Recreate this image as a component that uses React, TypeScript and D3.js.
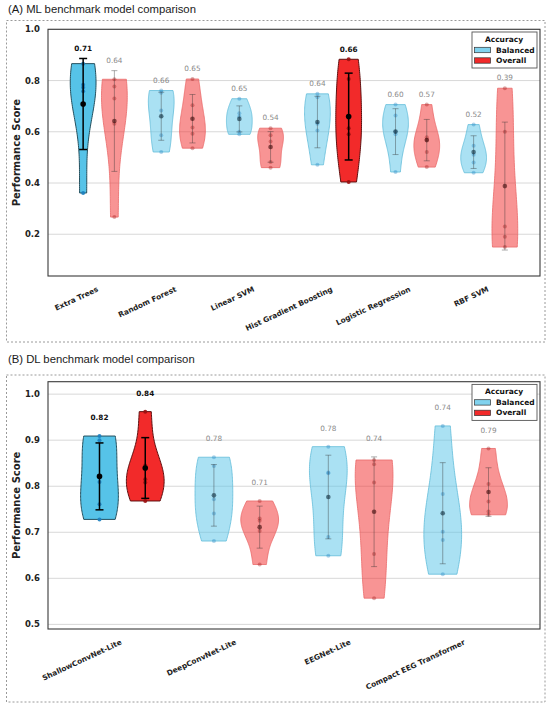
import React from 'react';
import * as d3 from 'd3';

// ---- data ----
const mlModels = ['Extra Trees', 'Random Forest', 'Linear SVM', 'Hist Gradient Boosting', 'Logistic Regression', 'RBF SVM'];
const mlBalanced = [
    [0.866, 0.784, 0.773, 0.758, 0.361],
    [0.761, 0.752, 0.683, 0.586, 0.521],
    [0.729, 0.672, 0.66, 0.6, 0.59],
    [0.748, 0.735, 0.631, 0.605, 0.471],
    [0.706, 0.664, 0.6, 0.59, 0.443],
    [0.628, 0.545, 0.51, 0.48, 0.44],
];
const mlOverall = [
    [0.805, 0.777, 0.73, 0.631, 0.267],
    [0.806, 0.704, 0.617, 0.592, 0.536],
    [0.614, 0.586, 0.562, 0.482, 0.46],
    [0.883, 0.806, 0.614, 0.59, 0.404],
    [0.706, 0.579, 0.569, 0.521, 0.462],
    [0.77, 0.6, 0.23, 0.19, 0.15],
];
const mlTicks = [0.2, 0.4, 0.6, 0.8, 1.0];

const dlModels = ['ShallowConvNet-Lite', 'DeepConvNet-Lite', 'EEGNet-Lite', 'Compact EEG Transformer'];
const dlBalanced = [
    [0.909, 0.9, 0.809, 0.761, 0.728],
    [0.863, 0.844, 0.772, 0.741, 0.681],
    [0.886, 0.83, 0.828, 0.69, 0.649],
    [0.931, 0.783, 0.701, 0.683, 0.609],
];
const dlOverall = [
    [0.962, 0.845, 0.815, 0.808, 0.768],
    [0.768, 0.73, 0.725, 0.703, 0.63],
    [0.857, 0.848, 0.808, 0.653, 0.557],
    [0.882, 0.805, 0.767, 0.745, 0.738],
];
const dlTicks = [0.5, 0.6, 0.7, 0.8, 0.9, 1.0];

const metrics = ['Balanced', 'Overall'];

const FONT = '"DejaVu Sans", sans-serif';
const TITLE_FONT = '"Liberation Sans", Arial, sans-serif';

const COLORS = {
    Balanced: { fill: '#56c3e8', edgeHi: '#24505e', edgeLo: '#62bcd9', point: '#1b7fbf', mean: '#0b2a3a' },
    Overall: { fill: '#f22a2a', edgeHi: '#5e0f0f', edgeLo: '#ea6a6a', point: '#9a1010', mean: '#3a0808' },
};

// gaussian kde, scott bandwidth (like scipy)
function gaussKde(values: number[]) {
    const n = values.length;
    const m = d3.mean(values) || 0;
    const sd = Math.sqrt(d3.sum(values, v => (v - m) ** 2) / (n - 1));
    const bw = sd * Math.pow(n, -1 / 5);
    return (x: number) => d3.mean(values, v => Math.exp(-0.5 * ((x - v) / bw) ** 2)) || 0;
}

interface PanelProps {
    title: string;
    titleY: number;
    boxTop: number;
    boxBottom: number;
    top: number;
    bottom: number;
    yDomain: [number, number];
    ticks: number[];
    models: string[];
    balanced: number[][];
    overall: number[][];
}

function Panel({ title, titleY, boxTop, boxBottom, top, bottom, yDomain, ticks, models, balanced, overall }: PanelProps) {
    const left = 48, right = 540;
    const x = d3.scaleLinear().domain([-0.65, models.length - 0.35]).range([left, right]);
    const y = d3.scaleLinear().domain(yDomain).range([bottom, top]);
    const halfW = 0.165;
    const offset = 0.2;

    const series = [balanced, overall];

    return (
        <g>
            <text x={8} y={titleY} fontFamily={TITLE_FONT} fontSize={11.3} fill="#1a1a1a">{title}</text>
            <rect x={6.5} y={boxTop} width={538.5} height={boxBottom - boxTop} fill="none"
                  stroke="#9a9a9a" strokeWidth={1} strokeDasharray="2,2" />

            {/* grid */}
            {ticks.map(t => (
                <line key={t} x1={left} x2={right} y1={y(t)} y2={y(t)} stroke="#d4d4d4" strokeWidth={0.9} />
            ))}

            {series.map((data, si) => {
                const metric = metrics[si] as 'Balanced' | 'Overall';
                const col = COLORS[metric];
                const means = data.map(d => d3.mean(d) || 0);
                const best = d3.maxIndex(means);
                return data.map((vals, i) => {
                    const hi = i === best;
                    const cx = i + (si === 0 ? -offset : offset);
                    const lo = d3.min(vals) || 0, hiV = d3.max(vals) || 0;
                    const kde = gaussKde(vals);
                    const grid = d3.range(0, 61).map(k => lo + (hiV - lo) * k / 60);
                    const dens = grid.map(kde);
                    const maxD = d3.max(dens) || 1;
                    const pts = grid.map((v, k) => ({ v, w: dens[k] / maxD * halfW }));
                    const area = d3.area<{ v: number; w: number }>()
                        .y(d => y(d.v))
                        .x0(d => x(cx - d.w))
                        .x1(d => x(cx + d.w));
                    const mean = means[i];
                    const sd = Math.sqrt(d3.mean(vals, v => (v - mean) ** 2) || 0);
                    const px = x(cx);
                    const cap = hi ? 4 : 3;
                    const labelV = Math.max(hiV, mean + sd) + 0.04;
                    return (
                        <g key={`${si}-${i}`}>
                            <path d={area(pts) || ''} fill={col.fill} fillOpacity={hi ? 1 : 0.5}
                                  stroke={hi ? col.edgeHi : col.edgeLo} strokeWidth={hi ? 1 : 0.8} />
                            {vals.map((v, k) => (
                                <circle key={k} cx={px} cy={y(v)} r={2} fill={col.point} fillOpacity={hi ? 0.9 : 0.35} />
                            ))}
                            <g stroke={hi ? '#000' : '#333'} strokeOpacity={hi ? 1 : 0.5} strokeWidth={hi ? 1.5 : 0.8}>
                                <line x1={px} x2={px} y1={y(mean - sd)} y2={y(mean + sd)} />
                                <line x1={px - cap} x2={px + cap} y1={y(mean - sd)} y2={y(mean - sd)} />
                                <line x1={px - cap} x2={px + cap} y1={y(mean + sd)} y2={y(mean + sd)} />
                            </g>
                            <circle cx={px} cy={y(mean)} r={hi ? 2.8 : 2.3} fill={hi ? '#000' : col.mean} fillOpacity={hi ? 1 : 0.6} />
                            <text x={px} y={y(labelV)} textAnchor="middle" dominantBaseline="central"
                                  fontFamily={FONT} fontSize={7.3} fontWeight={hi ? 'bold' : 'normal'}
                                  fill={hi ? '#111' : '#8a8a8a'}>{mean.toFixed(2)}</text>
                        </g>
                    );
                });
            })}

            {/* frame */}
            <rect x={left} y={top} width={right - left} height={bottom - top} fill="none" stroke="#3a3a3a" strokeWidth={1.1} />

            {/* y axis */}
            {ticks.map(t => (
                <text key={t} x={40} y={y(t)} textAnchor="end" dominantBaseline="central"
                      fontFamily={FONT} fontSize={8.5} fontWeight="bold" fill="#222">{t.toFixed(1)}</text>
            ))}
            <text transform={`translate(16,${(top + bottom) / 2}) rotate(-90)`} textAnchor="middle"
                  dominantBaseline="central" fontFamily={FONT} fontSize={10} fontWeight="bold" fill="#222">
                Performance Score
            </text>

            {/* x axis labels */}
            {models.map((m, i) => (
                <text key={m} transform={`translate(${x(i)},${bottom + 15}) rotate(-25)`} textAnchor="end"
                      fontFamily={FONT} fontSize={7.4} fontWeight="bold" fill="#222">{m}</text>
            ))}

            {/* legend */}
            <g transform={`translate(472,${top + 2.7})`}>
                <rect x={0} y={0} width={65} height={36} fill="#fff" stroke="#555" strokeWidth={0.9} />
                <text x={32} y={7} textAnchor="middle" dominantBaseline="central" fontFamily={FONT}
                      fontSize={7.5} fontWeight="bold" fill="#111">Accuracy</text>
                {metrics.map((mt, k) => {
                    const col = COLORS[mt as 'Balanced' | 'Overall'];
                    return (
                        <g key={mt} transform={`translate(0,${18 + k * 10.5})`}>
                            <rect x={2.5} y={-2.7} width={16} height={5.4} fill={col.fill} fillOpacity={k === 0 ? 0.75 : 1}
                                  stroke="#333" strokeWidth={0.7} />
                            <text x={24} y={0} dominantBaseline="central" fontFamily={FONT} fontSize={7.5}
                                  fontWeight="bold" fill="#111">{mt}</text>
                        </g>
                    );
                })}
            </g>
        </g>
    );
}

export default function App() {
    return (
        <div style={{ position: 'absolute', left: 0, top: 0, width: 550, height: 706, background: '#fff' }}>
            <svg width={550} height={706} viewBox="0 0 550 706">
                <rect width={550} height={706} fill="#fff" />
                <Panel title="(A) ML benchmark model comparison" titleY={13} boxTop={20.5} boxBottom={342}
                       top={29.3} bottom={276} yDomain={[0.037, 1.0]} ticks={mlTicks}
                       models={mlModels} balanced={mlBalanced} overall={mlOverall} />
                <Panel title="(B) DL benchmark model comparison" titleY={363} boxTop={375} boxBottom={702}
                       top={381.7} bottom={629} yDomain={[0.49, 1.027]} ticks={dlTicks}
                       models={dlModels} balanced={dlBalanced} overall={dlOverall} />
            </svg>
        </div>
    );
}
